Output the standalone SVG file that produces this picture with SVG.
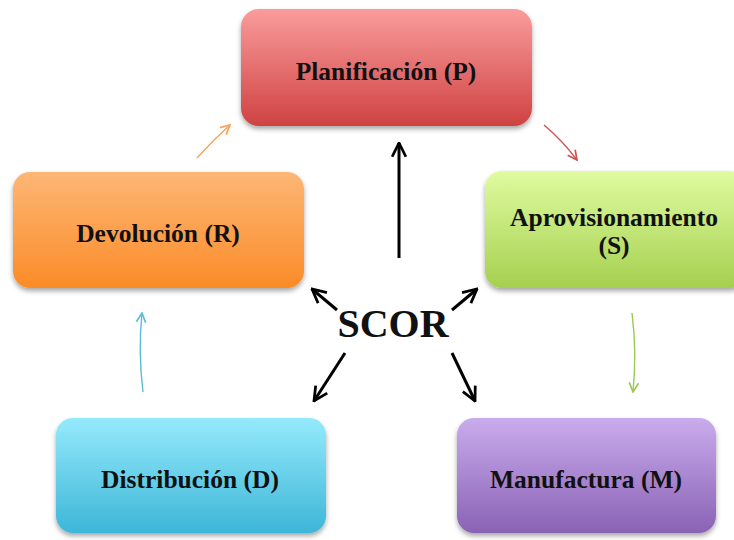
<svg xmlns="http://www.w3.org/2000/svg" width="734" height="540" viewBox="0 0 734 540">
  <style>
    .box { filter: url(#shadow); }
    .label { font-family: "Liberation Serif", "Times New Roman", serif; font-weight: bold; font-size: 25.5px; fill: #111; text-anchor: middle; }
    .hub { font-family: "Liberation Serif", "Times New Roman", serif; font-weight: bold; font-size: 40px; fill: #111; text-anchor: middle; }
    .spoke { stroke: #000; stroke-width: 3; fill: none; marker-end: url(#headBlack); }
    .cycle { stroke-width: 1.4; fill: none; }
  </style>
  <defs>
    <filter id="shadow" x="-10%" y="-10%" width="120%" height="130%">
      <feDropShadow dx="0" dy="3" stdDeviation="2.5" flood-color="#000" flood-opacity="0.35"/>
    </filter>
    <linearGradient id="gP" x1="0" y1="0" x2="0" y2="1">
      <stop offset="0" stop-color="#fa9c9c"/>
      <stop offset="1" stop-color="#cf4242"/>
    </linearGradient>
    <linearGradient id="gR" x1="0" y1="0" x2="0" y2="1">
      <stop offset="0" stop-color="#fdb776"/>
      <stop offset="1" stop-color="#fb8b27"/>
    </linearGradient>
    <linearGradient id="gS" x1="0" y1="0" x2="0" y2="1">
      <stop offset="0" stop-color="#e0fba0"/>
      <stop offset="1" stop-color="#a5d04f"/>
    </linearGradient>
    <linearGradient id="gD" x1="0" y1="0" x2="0" y2="1">
      <stop offset="0" stop-color="#95eafc"/>
      <stop offset="1" stop-color="#3db6d8"/>
    </linearGradient>
    <linearGradient id="gM" x1="0" y1="0" x2="0" y2="1">
      <stop offset="0" stop-color="#c9aced"/>
      <stop offset="1" stop-color="#8a62b5"/>
    </linearGradient>
    <marker id="headBlack" viewBox="0 0 12 12" refX="11" refY="6" markerWidth="5.5" markerHeight="5.5" markerUnits="strokeWidth" orient="auto">
      <path d="M1,1 L11,6 L1,11" fill="none" stroke="#000" stroke-width="2"/>
    </marker>
    <marker id="headOrange" viewBox="0 0 12 12" refX="11" refY="6" markerWidth="8" markerHeight="8" markerUnits="strokeWidth" orient="auto">
      <path d="M1,1 L11,6 L1,11" fill="none" stroke="#f9a25a" stroke-width="1.8"/>
    </marker>
    <marker id="headRed" viewBox="0 0 12 12" refX="11" refY="6" markerWidth="8" markerHeight="8" markerUnits="strokeWidth" orient="auto">
      <path d="M1,1 L11,6 L1,11" fill="none" stroke="#d05050" stroke-width="1.8"/>
    </marker>
    <marker id="headGreen" viewBox="0 0 12 12" refX="11" refY="6" markerWidth="8" markerHeight="8" markerUnits="strokeWidth" orient="auto">
      <path d="M1,1 L11,6 L1,11" fill="none" stroke="#9cc854" stroke-width="1.8"/>
    </marker>
    <marker id="headBlue" viewBox="0 0 12 12" refX="11" refY="6" markerWidth="8" markerHeight="8" markerUnits="strokeWidth" orient="auto">
      <path d="M1,1 L11,6 L1,11" fill="none" stroke="#5cbcd8" stroke-width="1.8"/>
    </marker>
  </defs>

  <rect width="734" height="540" fill="#fff"/>

  <!-- process cycle and hub spokes -->
  <g id="connectors">
    <path class="cycle" d="M197,158 Q213,140 230,125" stroke="#f9a25a" marker-end="url(#headOrange)"/>
    <path class="cycle" d="M544,125 Q562,140 577,160" stroke="#d05050" marker-end="url(#headRed)"/>
    <path class="cycle" d="M632,313 Q637,352 633,392" stroke="#9cc854" marker-end="url(#headGreen)"/>
    <path class="cycle" d="M143,392 Q138,352 142,313" stroke="#5cbcd8" marker-end="url(#headBlue)"/>

    <line class="spoke" x1="399" y1="258" x2="399" y2="143"/>
    <line class="spoke" x1="337" y1="310" x2="312" y2="289"/>
    <line class="spoke" x1="452" y1="310" x2="477" y2="289"/>
    <line class="spoke" x1="345" y1="353" x2="314" y2="401"/>
    <line class="spoke" x1="452" y1="353" x2="475" y2="401"/>
  </g>

  <g id="hub">
    <text class="hub" x="393" y="337">SCOR</text>
  </g>

  <g id="plan">
    <rect class="box" x="241" y="9" width="291" height="117" rx="18" fill="url(#gP)"/>
    <text class="label" x="386" y="80">Planificación (P)</text>
  </g>

  <g id="source">
    <rect class="box" x="485" y="171" width="262" height="117" rx="17" fill="url(#gS)"/>
    <text class="label" x="614" y="226">Aprovisionamiento</text>
    <text class="label" x="614" y="254">(S)</text>
  </g>

  <g id="make">
    <rect class="box" x="457" y="418" width="259" height="115" rx="17" fill="url(#gM)"/>
    <text class="label" x="586" y="488">Manufactura (M)</text>
  </g>

  <g id="deliver">
    <rect class="box" x="56" y="418" width="270" height="115" rx="17" fill="url(#gD)"/>
    <text class="label" x="190" y="488">Distribución (D)</text>
  </g>

  <g id="return">
    <rect class="box" x="13" y="172" width="291" height="116" rx="17" fill="url(#gR)"/>
    <text class="label" x="158" y="242">Devolución (R)</text>
  </g>
</svg>
